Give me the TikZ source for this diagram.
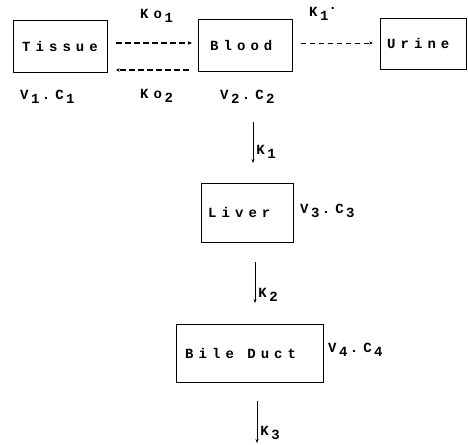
\documentclass[tikz,border=0pt]{standalone}
\usepackage{fontspec}
\setmainfont{Liberation Mono}
\newfontfamily\plotfont[LetterSpace=36]{Liberation Mono}
\usetikzlibrary{arrows.meta}
% lowered index, same size as the letter it follows
\newcommand\dnidx[1]{\kern2.5pt\raisebox{-0.55ex}{#1}}
\begin{document}
\begin{tikzpicture}[x=1pt,y=-1pt,
  font=\plotfont\bfseries\fontsize{14}{16}\selectfont,
  comp/.style={draw,line width=0.9pt,inner sep=0pt,anchor=north west},
  lbl/.style={inner sep=0pt,anchor=west},
  flow/.style={line width=0.7pt,-{Stealth[length=4pt,width=3pt]}},
  exch/.style={line width=1.8pt,dash pattern=on 6pt off 3pt,-{Stealth[length=4pt,width=3.5pt]}},
  renal/.style={line width=0.6pt,dash pattern=on 5pt off 4pt,-{Stealth[length=4pt,width=3pt]}}]
\useasboundingbox (0,0) rectangle (468,444);
% compartments
\node[comp,minimum width=94pt,minimum height=52pt] (tissue) at (13,20) {};
\node[lbl] at (tissue.west) [xshift=9pt] {Tissue};
\node[comp,minimum width=94pt,minimum height=52pt] (blood) at (198,19) {};
\node[lbl] at (blood.west) [xshift=12pt] {Blood};
\node[comp,minimum width=86pt,minimum height=51pt] (urine) at (380,18) {};
\node[lbl] at (urine.west) [xshift=7pt] {Urine};
\node[comp,minimum width=92pt,minimum height=59pt] (liver) at (201,183) {};
\node[lbl] at (liver.west) [xshift=7pt] {Liver};
\node[comp,minimum width=147pt,minimum height=58pt] (bile) at (176,324) {};
\node[lbl] at (bile.west) [xshift=9pt] {Bile Duct};
% volume / concentration labels
\node[lbl] (v1) at (20,97) {V\dnidx{1}\,.C\dnidx{1}};
\node[lbl] (v2) at (220,97) {V\dnidx{2}\,.C\dnidx{2}};
\node[lbl] (v3) at (300,211) {V\dnidx{3}\,.C\dnidx{3}};
\node[lbl] (v4) at (328,350) {V\dnidx{4}\,.C\dnidx{4}};
% rate constants
\node[lbl] (ko1) at (140,16) {Ko\dnidx{1}};
\node[lbl] (ko2) at (140,96) {Ko\dnidx{2}};
\node[lbl] (k1p) at (309,14) {K\dnidx{1}\raisebox{0.9ex}{.}};
% exchange tissue <-> blood
\coordinate (t1) at (tissue.east |- 0,43);
\coordinate (b1) at (blood.west |- 0,43);
\coordinate (t2) at (tissue.east |- 0,70);
\coordinate (b2) at (blood.west |- 0,70);
\draw[exch] ([xshift=8pt]t1) -- ([xshift=-6pt]b1);
\draw[exch] ([xshift=-9pt]b2) -- ([xshift=8pt]t2);
% renal excretion
\coordinate (b3) at (blood.east |- 0,43);
\coordinate (u3) at (urine.west |- 0,43);
\draw[renal] ([xshift=8pt]b3) -- ([xshift=-7pt]u3);
% blood -> liver -> bile duct -> out
\coordinate (a1) at (253,122);
\coordinate (a2) at (253,163);
\draw[flow] (a1) -- (a2) node[lbl,pos=0.72,right=3pt] (k1) {K\dnidx{1}};
\coordinate (c1) at (255,262);
\coordinate (c2) at (255,303);
\draw[flow] (c1) -- (c2) node[lbl,pos=0.8,right=3pt] (k2) {K\dnidx{2}};
\coordinate (d1) at (257,401);
\coordinate (d2) at (257,443);
\draw[flow] (d1) -- (d2) node[lbl,pos=0.75,right=3pt] (k3) {K\dnidx{3}};
\end{tikzpicture}
\end{document}
